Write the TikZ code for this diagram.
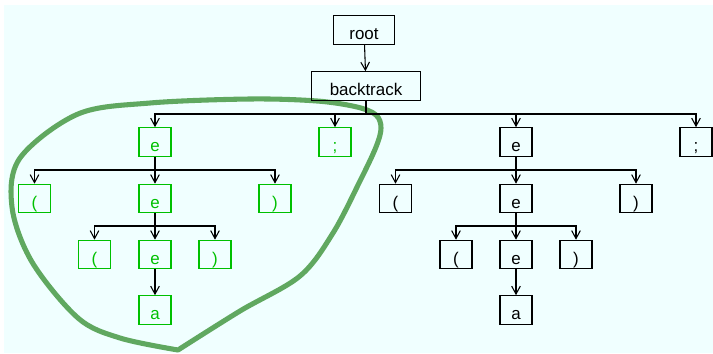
\documentclass[tikz,border=0pt]{standalone}
\usepackage{fontspec}
\setmainfont{Liberation Sans}
\usepackage{tikz}
\usetikzlibrary{arrows.meta}

\definecolor{bgcyan}{HTML}{F0FFFF}
\definecolor{tokgreen}{RGB}{0,192,0}
\definecolor{loopgreen}{RGB}{96,168,96}

\begin{document}
\begin{tikzpicture}[x=0.75pt,y=-0.75pt,
  box/.style={draw,line width=0.9pt,font=\fontsize{12.7pt}{15pt}\selectfont,
    inner xsep=2pt,inner ysep=3.4pt,text height=14.5pt,text depth=0pt,
    minimum width=24pt},
  hit/.style={box,draw=tokgreen,text=tokgreen},
  arr/.style={-{Straight Barb[length=6pt,width=6.5pt]},line width=0.8pt}]
\useasboundingbox (0,0) rectangle (713,353);
\fill[bgcyan] (4,5) rectangle (713,353);
% the highlighted subtree
\draw[loopgreen,line width=3.8pt,line cap=round] plot[smooth,tension=0.55] coordinates
  {(178,350) (120,338) (78,318) (32,262) (12,207) (20,158) (78,114) (150,103)
   (250,99) (317,101) (357,107) (376,115) (381,128) (376,147) (360,181)
   (333,233) (300,276) (240,311) (178,350)};
\node[box,minimum width=46pt] (root) at (364,30) {root};
\node[box,minimum width=82pt] (bt) at (366,86) {backtrack};
\node[hit] (e1) at (155,142) {e};
\node[hit] (s1) at (335,142) {;};
\node[box] (e2) at (516,142) {e};
\node[box] (s2) at (696,142) {;};
\node[hit] (lp1) at (34.5,198.5) {(};
\node[hit] (e11) at (155,198.5) {e};
\node[hit] (rp1) at (275,198.5) {)};
\node[box] (lp2) at (395.5,198.5) {(};
\node[box] (e21) at (516,198.5) {e};
\node[box] (rp2) at (636,198.5) {)};
\node[hit] (lp11) at (94.5,254.5) {(};
\node[hit] (e12) at (155,254.5) {e};
\node[hit] (rp11) at (215,254.5) {)};
\node[box] (lp21) at (456,254.5) {(};
\node[box] (e22) at (516,254.5) {e};
\node[box] (rp21) at (576,254.5) {)};
\node[hit] (a1) at (155,310) {a};
\node[box] (a2) at (516,310) {a};
% junctions on the horizontal bars
\coordinate (j0) at (366,114);
\coordinate (j1) at (155,170);
\coordinate (j2) at (516,170);
\coordinate (j3) at (155,226);
\coordinate (j4) at (516,226);
\draw[arr] (root) -- (bt);
\foreach \c in {e1,s1,e2,s2}
  \draw[arr] (bt.south) -- (j0) -| (\c.north);
\foreach \c in {lp1,e11,rp1}
  \draw[arr] (e1.south) -- (j1) -| (\c.north);
\foreach \c in {lp2,e21,rp2}
  \draw[arr] (e2.south) -- (j2) -| (\c.north);
\foreach \c in {lp11,e12,rp11}
  \draw[arr] (e11.south) -- (j3) -| (\c.north);
\foreach \c in {lp21,e22,rp21}
  \draw[arr] (e21.south) -- (j4) -| (\c.north);
\draw[arr] (e12) -- (a1);
\draw[arr] (e22) -- (a2);
\end{tikzpicture}
\end{document}
